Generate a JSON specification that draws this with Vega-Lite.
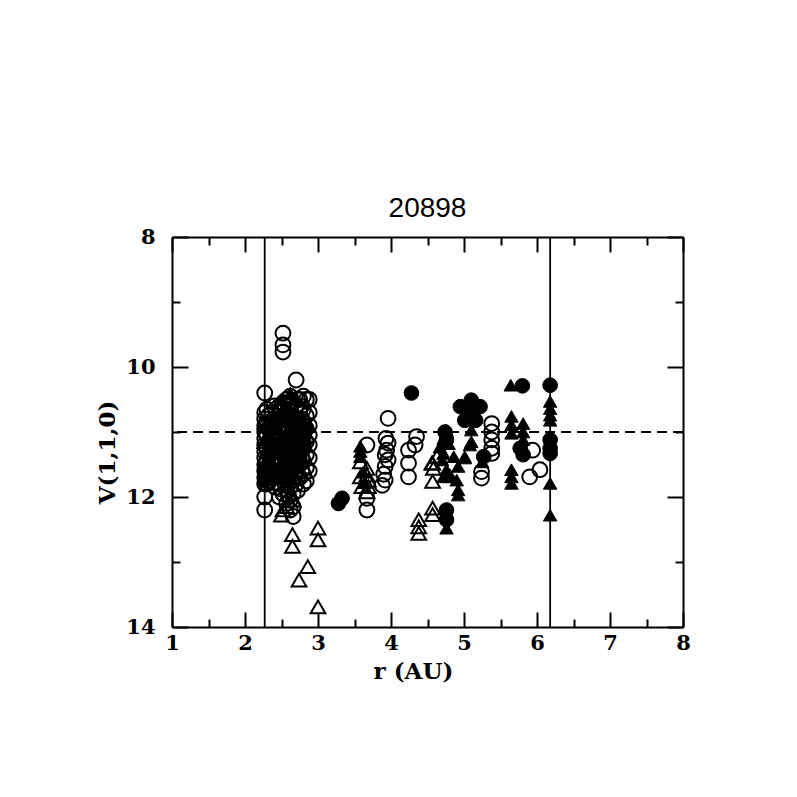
{
  "$schema": "https://vega.github.io/schema/vega-lite/v6.json",
  "autosize": "none",
  "width": 511,
  "height": 390,
  "padding": {"left": 172, "top": 237, "right": 114, "bottom": 170},
  "background": "white",
  "config": {
    "view": {"stroke": null},
    "axis": {
      "grid": false,
      "domainColor": "black",
      "domainWidth": 2,
      "tickColor": "black",
      "tickWidth": 2,
      "labelColor": "black",
      "titleColor": "black",
      "labelFont": "DejaVu Serif",
      "labelFontSize": 21,
      "labelFontWeight": "bold",
      "titleFont": "DejaVu Serif",
      "titleFontSize": 23,
      "titleFontWeight": "bold",
      "labelFlush": false,
      "labelOverlap": false
    }
  },
  "title": {"text": "20898", "font": "Liberation Sans", "fontSize": 28, "fontWeight": "normal", "color": "black", "baseline": "alphabetic", "offset": 18, "dy": 37},
  "data": {"values": [
    {"r":2.27,"V":10.4,"kind":"oc"},{"r":2.27,"V":10.7,"kind":"oc"},{"r":2.27,"V":10.8,"kind":"oc"},{"r":2.27,"V":10.9,"kind":"oc"},{"r":2.27,"V":11.0,"kind":"oc"},{"r":2.27,"V":11.1,"kind":"oc"},{"r":2.27,"V":11.2,"kind":"oc"},{"r":2.27,"V":11.3,"kind":"oc"},{"r":2.27,"V":11.4,"kind":"oc"},{"r":2.27,"V":11.5,"kind":"oc"},{"r":2.27,"V":11.6,"kind":"oc"},{"r":2.27,"V":11.7,"kind":"oc"},{"r":2.27,"V":11.8,"kind":"oc"},{"r":2.27,"V":12.0,"kind":"oc"},{"r":2.27,"V":12.2,"kind":"oc"},
    {"r":2.27,"V":11.55,"kind":"fc"},{"r":2.27,"V":11.65,"kind":"fc"},{"r":2.27,"V":11.75,"kind":"fc"},{"r":2.27,"V":10.85,"kind":"ot"},{"r":2.27,"V":11.15,"kind":"ot"},
    {"r":2.32,"V":10.75,"kind":"oc"},{"r":2.32,"V":10.95,"kind":"oc"},{"r":2.32,"V":11.15,"kind":"oc"},{"r":2.32,"V":11.35,"kind":"oc"},{"r":2.32,"V":11.55,"kind":"oc"},{"r":2.32,"V":11.75,"kind":"oc"},{"r":2.32,"V":11.05,"kind":"ft"},{"r":2.32,"V":11.45,"kind":"ft"},
    {"r":2.3,"V":10.65,"kind":"oc"},{"r":2.3,"V":10.85,"kind":"oc"},{"r":2.3,"V":11.05,"kind":"oc"},{"r":2.3,"V":11.25,"kind":"oc"},{"r":2.3,"V":11.45,"kind":"oc"},{"r":2.3,"V":11.65,"kind":"oc"},{"r":2.3,"V":11.8,"kind":"oc"},
    {"r":2.37,"V":10.7,"kind":"oc"},{"r":2.37,"V":10.9,"kind":"oc"},{"r":2.37,"V":11.1,"kind":"oc"},{"r":2.37,"V":11.3,"kind":"oc"},{"r":2.37,"V":11.5,"kind":"oc"},{"r":2.37,"V":11.7,"kind":"oc"},{"r":2.37,"V":11.0,"kind":"ot"},{"r":2.37,"V":11.6,"kind":"ot"},
    {"r":2.4,"V":10.6,"kind":"oc"},{"r":2.4,"V":10.8,"kind":"oc"},{"r":2.4,"V":11.0,"kind":"oc"},{"r":2.4,"V":11.2,"kind":"oc"},{"r":2.4,"V":11.4,"kind":"oc"},{"r":2.4,"V":11.6,"kind":"oc"},{"r":2.4,"V":11.78,"kind":"oc"},
    {"r":2.42,"V":10.65,"kind":"oc"},{"r":2.42,"V":10.85,"kind":"oc"},{"r":2.42,"V":11.05,"kind":"oc"},{"r":2.42,"V":11.25,"kind":"oc"},{"r":2.42,"V":11.45,"kind":"oc"},{"r":2.42,"V":11.65,"kind":"oc"},{"r":2.42,"V":11.85,"kind":"oc"},{"r":2.42,"V":10.95,"kind":"ft"},
    {"r":2.47,"V":10.6,"kind":"oc"},{"r":2.47,"V":10.8,"kind":"oc"},{"r":2.47,"V":11.0,"kind":"oc"},{"r":2.47,"V":11.2,"kind":"oc"},{"r":2.47,"V":11.4,"kind":"oc"},{"r":2.47,"V":11.6,"kind":"oc"},{"r":2.47,"V":11.8,"kind":"oc"},{"r":2.47,"V":12.0,"kind":"oc"},{"r":2.47,"V":11.1,"kind":"ft"},{"r":2.47,"V":11.5,"kind":"ft"},{"r":2.47,"V":10.55,"kind":"ot"},
    {"r":2.5,"V":10.7,"kind":"oc"},{"r":2.5,"V":10.9,"kind":"oc"},{"r":2.5,"V":11.1,"kind":"oc"},{"r":2.5,"V":11.3,"kind":"oc"},{"r":2.5,"V":11.5,"kind":"oc"},{"r":2.5,"V":11.7,"kind":"oc"},{"r":2.5,"V":11.88,"kind":"oc"},
    {"r":2.52,"V":9.48,"kind":"oc"},{"r":2.52,"V":9.66,"kind":"oc"},{"r":2.52,"V":9.77,"kind":"oc"},{"r":2.52,"V":10.55,"kind":"oc"},{"r":2.52,"V":10.75,"kind":"oc"},{"r":2.52,"V":10.95,"kind":"oc"},{"r":2.52,"V":11.15,"kind":"oc"},{"r":2.52,"V":11.35,"kind":"oc"},{"r":2.52,"V":11.55,"kind":"oc"},{"r":2.52,"V":11.75,"kind":"oc"},{"r":2.52,"V":11.95,"kind":"oc"},{"r":2.52,"V":12.2,"kind":"ot"},{"r":2.5,"V":12.28,"kind":"ot"},{"r":2.52,"V":10.5,"kind":"ft"},{"r":2.52,"V":11.05,"kind":"ft"},{"r":2.52,"V":11.25,"kind":"ft"},
    {"r":2.57,"V":10.5,"kind":"oc"},{"r":2.57,"V":10.7,"kind":"oc"},{"r":2.57,"V":10.9,"kind":"oc"},{"r":2.57,"V":11.1,"kind":"oc"},{"r":2.57,"V":11.3,"kind":"oc"},{"r":2.57,"V":11.5,"kind":"oc"},{"r":2.57,"V":11.7,"kind":"oc"},{"r":2.57,"V":11.9,"kind":"oc"},{"r":2.57,"V":12.1,"kind":"oc"},{"r":2.57,"V":10.6,"kind":"ft"},{"r":2.57,"V":11.0,"kind":"ft"},{"r":2.57,"V":11.4,"kind":"ft"},{"r":2.57,"V":11.8,"kind":"ot"},{"r":2.57,"V":12.15,"kind":"ot"},
    {"r":2.6,"V":10.6,"kind":"oc"},{"r":2.6,"V":10.8,"kind":"oc"},{"r":2.6,"V":11.0,"kind":"oc"},{"r":2.6,"V":11.2,"kind":"oc"},{"r":2.6,"V":11.4,"kind":"oc"},{"r":2.6,"V":11.6,"kind":"oc"},{"r":2.6,"V":11.8,"kind":"oc"},{"r":2.6,"V":12.0,"kind":"oc"},
    {"r":2.62,"V":10.45,"kind":"oc"},{"r":2.62,"V":10.65,"kind":"oc"},{"r":2.62,"V":10.85,"kind":"oc"},{"r":2.62,"V":11.05,"kind":"oc"},{"r":2.62,"V":11.25,"kind":"oc"},{"r":2.62,"V":11.45,"kind":"oc"},{"r":2.62,"V":11.65,"kind":"oc"},{"r":2.62,"V":11.85,"kind":"oc"},{"r":2.62,"V":12.05,"kind":"oc"},{"r":2.62,"V":12.2,"kind":"oc"},{"r":2.62,"V":10.4,"kind":"ft"},{"r":2.62,"V":10.95,"kind":"ft"},{"r":2.62,"V":11.35,"kind":"ft"},{"r":2.62,"V":10.75,"kind":"ot"},
    {"r":2.66,"V":10.55,"kind":"oc"},{"r":2.66,"V":10.75,"kind":"oc"},{"r":2.66,"V":10.95,"kind":"oc"},{"r":2.66,"V":11.15,"kind":"oc"},{"r":2.66,"V":11.35,"kind":"oc"},{"r":2.66,"V":11.55,"kind":"oc"},{"r":2.66,"V":11.75,"kind":"oc"},{"r":2.66,"V":11.95,"kind":"oc"},{"r":2.66,"V":12.15,"kind":"oc"},{"r":2.66,"V":12.3,"kind":"oc"},{"r":2.66,"V":10.5,"kind":"ft"},{"r":2.66,"V":11.1,"kind":"ft"},{"r":2.66,"V":11.5,"kind":"ft"},{"r":2.66,"V":12.05,"kind":"ot"},
    {"r":2.7,"V":10.2,"kind":"oc"},{"r":2.7,"V":10.6,"kind":"oc"},{"r":2.7,"V":10.8,"kind":"oc"},{"r":2.7,"V":11.0,"kind":"oc"},{"r":2.7,"V":11.2,"kind":"oc"},{"r":2.7,"V":11.4,"kind":"oc"},{"r":2.7,"V":11.6,"kind":"oc"},{"r":2.7,"V":11.8,"kind":"oc"},{"r":2.7,"V":10.7,"kind":"ft"},{"r":2.7,"V":11.3,"kind":"ft"},{"r":2.7,"V":11.1,"kind":"ot"},
    {"r":2.72,"V":10.5,"kind":"oc"},{"r":2.72,"V":10.9,"kind":"oc"},{"r":2.72,"V":11.3,"kind":"oc"},{"r":2.72,"V":11.5,"kind":"oc"},{"r":2.72,"V":11.7,"kind":"oc"},{"r":2.72,"V":11.9,"kind":"oc"},
    {"r":2.75,"V":10.5,"kind":"oc"},{"r":2.75,"V":10.7,"kind":"oc"},{"r":2.75,"V":10.9,"kind":"oc"},{"r":2.75,"V":11.1,"kind":"oc"},{"r":2.75,"V":11.3,"kind":"oc"},{"r":2.75,"V":11.5,"kind":"oc"},{"r":2.75,"V":11.7,"kind":"oc"},{"r":2.75,"V":10.85,"kind":"ft"},{"r":2.75,"V":11.25,"kind":"ft"},
    {"r":2.78,"V":10.6,"kind":"oc"},{"r":2.78,"V":10.8,"kind":"oc"},{"r":2.78,"V":11.0,"kind":"oc"},{"r":2.78,"V":11.2,"kind":"oc"},{"r":2.78,"V":11.4,"kind":"oc"},{"r":2.78,"V":11.6,"kind":"oc"},
    {"r":2.8,"V":10.45,"kind":"oc"},{"r":2.8,"V":10.65,"kind":"oc"},{"r":2.8,"V":10.85,"kind":"oc"},{"r":2.8,"V":11.05,"kind":"oc"},{"r":2.8,"V":11.25,"kind":"oc"},{"r":2.8,"V":11.45,"kind":"oc"},{"r":2.8,"V":11.65,"kind":"oc"},{"r":2.8,"V":11.8,"kind":"oc"},{"r":2.8,"V":11.0,"kind":"ot"},
    {"r":2.84,"V":10.5,"kind":"oc"},{"r":2.84,"V":10.75,"kind":"oc"},{"r":2.84,"V":10.95,"kind":"oc"},{"r":2.84,"V":11.15,"kind":"oc"},{"r":2.84,"V":11.35,"kind":"oc"},{"r":2.84,"V":11.55,"kind":"oc"},{"r":2.84,"V":11.75,"kind":"oc"},{"r":2.84,"V":11.1,"kind":"ft"},
    {"r":2.88,"V":10.5,"kind":"oc"},{"r":2.88,"V":10.7,"kind":"oc"},{"r":2.88,"V":10.9,"kind":"oc"},{"r":2.88,"V":11.05,"kind":"oc"},{"r":2.88,"V":11.2,"kind":"oc"},{"r":2.88,"V":11.4,"kind":"oc"},{"r":2.88,"V":11.6,"kind":"oc"},{"r":2.88,"V":10.9,"kind":"ft"},
    {"r":2.35,"V":11.2,"kind":"fc"},{"r":2.45,"V":11.3,"kind":"fc"},{"r":2.55,"V":11.2,"kind":"fc"},{"r":2.65,"V":11.3,"kind":"fc"},{"r":2.75,"V":11.4,"kind":"fc"},{"r":2.4,"V":10.95,"kind":"fc"},{"r":2.6,"V":10.85,"kind":"fc"},{"r":2.7,"V":11.55,"kind":"fc"},{"r":2.5,"V":11.6,"kind":"fc"},{"r":2.8,"V":11.15,"kind":"fc"},{"r":2.35,"V":11.55,"kind":"fc"},{"r":2.55,"V":10.8,"kind":"fc"},{"r":2.45,"V":11.7,"kind":"fc"},{"r":2.72,"V":10.95,"kind":"fc"},
    {"r":2.65,"V":12.58,"kind":"ot"},{"r":2.65,"V":12.76,"kind":"ot"},{"r":3.0,"V":12.48,"kind":"ot"},{"r":3.0,"V":12.66,"kind":"ot"},{"r":2.86,"V":13.07,"kind":"ot"},{"r":2.74,"V":13.28,"kind":"ot"},{"r":3.0,"V":13.69,"kind":"ot"},
    {"r":3.28,"V":12.1,"kind":"fc"},{"r":3.33,"V":12.02,"kind":"fc"},
    {"r":4.28,"V":10.4,"kind":"fc"},{"r":3.96,"V":10.79,"kind":"oc"},
    {"r":3.93,"V":11.1,"kind":"oc"},{"r":3.96,"V":11.17,"kind":"oc"},{"r":3.94,"V":11.28,"kind":"oc"},{"r":3.92,"V":11.35,"kind":"oc"},{"r":3.96,"V":11.43,"kind":"oc"},{"r":3.92,"V":11.53,"kind":"oc"},{"r":3.9,"V":11.65,"kind":"oc"},{"r":3.92,"V":11.74,"kind":"oc"},{"r":3.88,"V":11.82,"kind":"oc"},
    {"r":4.35,"V":11.07,"kind":"oc"},{"r":4.33,"V":11.2,"kind":"oc"},{"r":4.24,"V":11.28,"kind":"oc"},{"r":4.24,"V":11.48,"kind":"oc"},{"r":4.24,"V":11.69,"kind":"oc"},
    {"r":3.67,"V":11.2,"kind":"oc"},{"r":3.67,"V":12.02,"kind":"oc"},{"r":3.67,"V":12.2,"kind":"oc"},
    {"r":3.58,"V":11.22,"kind":"ft"},{"r":3.58,"V":11.3,"kind":"ft"},{"r":3.58,"V":11.38,"kind":"ft"},
    {"r":3.58,"V":11.46,"kind":"ot"},{"r":3.58,"V":11.69,"kind":"ot"},{"r":3.6,"V":11.84,"kind":"ot"},{"r":3.67,"V":11.56,"kind":"ot"},{"r":3.67,"V":11.66,"kind":"ot"},{"r":3.69,"V":11.74,"kind":"ot"},{"r":3.69,"V":11.84,"kind":"ot"},{"r":3.67,"V":11.92,"kind":"ot"},
    {"r":3.64,"V":11.78,"kind":"ft"},{"r":3.62,"V":11.62,"kind":"ft"},
    {"r":4.38,"V":12.35,"kind":"ot"},{"r":4.38,"V":12.46,"kind":"ot"},{"r":4.38,"V":12.56,"kind":"ot"},
    {"r":4.57,"V":12.17,"kind":"ot"},{"r":4.57,"V":12.27,"kind":"ot"},{"r":4.57,"V":11.48,"kind":"ot"},{"r":4.57,"V":11.76,"kind":"ot"},
    {"r":4.74,"V":11.0,"kind":"fc"},{"r":4.76,"V":11.12,"kind":"fc"},{"r":4.76,"V":12.2,"kind":"fc"},{"r":4.76,"V":12.35,"kind":"fc"},{"r":4.76,"V":12.48,"kind":"ft"},
    {"r":4.95,"V":10.61,"kind":"fc"},{"r":5.1,"V":10.51,"kind":"fc"},{"r":5.22,"V":10.61,"kind":"fc"},{"r":5.08,"V":10.71,"kind":"fc"},{"r":5.01,"V":10.82,"kind":"fc"},{"r":5.16,"V":10.82,"kind":"fc"},
    {"r":5.1,"V":10.97,"kind":"ft"},{"r":5.1,"V":11.15,"kind":"ft"},
    {"r":4.72,"V":11.33,"kind":"ft"},{"r":4.86,"V":11.38,"kind":"ft"},{"r":5.01,"V":11.38,"kind":"ft"},{"r":4.92,"V":11.53,"kind":"ft"},{"r":4.76,"V":11.58,"kind":"ft"},{"r":4.81,"V":11.69,"kind":"ft"},{"r":4.72,"V":11.69,"kind":"ft"},{"r":4.9,"V":11.74,"kind":"ft"},{"r":4.92,"V":11.89,"kind":"ft"},{"r":4.92,"V":11.97,"kind":"ft"},
    {"r":4.76,"V":10.97,"kind":"ft"},{"r":4.72,"V":11.1,"kind":"ft"},{"r":4.79,"V":11.18,"kind":"ft"},{"r":4.67,"V":11.23,"kind":"ft"},
    {"r":4.63,"V":11.38,"kind":"ot"},{"r":4.56,"V":11.48,"kind":"ot"},{"r":4.58,"V":11.56,"kind":"ot"},
    {"r":4.7,"V":11.43,"kind":"ft"},{"r":4.81,"V":11.66,"kind":"ft"},{"r":5.01,"V":11.4,"kind":"ft"},{"r":5.08,"V":11.2,"kind":"ft"},
    {"r":5.38,"V":10.87,"kind":"oc"},{"r":5.38,"V":11.0,"kind":"oc"},{"r":5.38,"V":11.12,"kind":"oc"},{"r":5.38,"V":11.25,"kind":"oc"},{"r":5.38,"V":11.33,"kind":"oc"},
    {"r":5.27,"V":11.38,"kind":"fc"},{"r":5.25,"V":11.46,"kind":"ft"},{"r":5.24,"V":11.61,"kind":"oc"},{"r":5.24,"V":11.71,"kind":"oc"},
    {"r":5.65,"V":10.76,"kind":"ft"},{"r":5.65,"V":10.89,"kind":"ft"},{"r":5.65,"V":11.02,"kind":"ft"},{"r":5.81,"V":10.87,"kind":"ft"},{"r":5.81,"V":11.0,"kind":"ft"},{"r":5.81,"V":11.12,"kind":"ft"},
    {"r":5.64,"V":10.28,"kind":"ft"},{"r":5.8,"V":10.29,"kind":"fc"},
    {"r":5.77,"V":11.25,"kind":"fc"},{"r":5.81,"V":11.35,"kind":"fc"},{"r":5.94,"V":11.28,"kind":"oc"},
    {"r":5.65,"V":11.58,"kind":"ft"},{"r":5.65,"V":11.69,"kind":"ft"},{"r":5.65,"V":11.79,"kind":"ft"},
    {"r":5.9,"V":11.69,"kind":"oc"},{"r":6.04,"V":11.58,"kind":"oc"},
    {"r":6.18,"V":10.28,"kind":"fc"},{"r":6.18,"V":10.53,"kind":"ft"},{"r":6.18,"V":10.64,"kind":"ft"},{"r":6.18,"V":10.74,"kind":"ft"},{"r":6.18,"V":10.82,"kind":"ft"},
    {"r":6.18,"V":11.12,"kind":"fc"},{"r":6.18,"V":11.25,"kind":"fc"},{"r":6.18,"V":11.33,"kind":"fc"},{"r":6.18,"V":11.79,"kind":"ft"},{"r":6.18,"V":12.28,"kind":"ft"}
  ]},
  "layer": [
    {
      "data": {"values": [{"r": 2.27}, {"r": 6.18}]},
      "mark": {"type": "rule", "color": "black", "strokeWidth": 1.8},
      "encoding": {"x": {"field": "r", "type": "quantitative", "scale": {"domain": [1, 8], "nice": false, "zero": false}, "axis": null}}
    },
    {
      "data": {"values": [{"V": 11}]},
      "mark": {"type": "rule", "color": "black", "strokeWidth": 1.8, "strokeDash": [10, 6]},
      "encoding": {"y": {"field": "V", "type": "quantitative", "scale": {"domain": [8, 14], "reverse": true, "nice": false, "zero": false}, "axis": null}}
    },
    {
      "transform": [{"filter": "datum.kind === 'oc'"}],
      "mark": {"type": "point", "shape": "circle", "filled": false, "stroke": "black", "strokeWidth": 2, "size": 220, "opacity": 1},
      "encoding": {
        "x": {"field": "r", "type": "quantitative", "scale": {"domain": [1, 8], "nice": false, "zero": false},
          "axis": {"orient": "bottom", "values": [1, 2, 3, 4, 5, 6, 7, 8], "tickSize": -15, "labelPadding": 20, "title": "r (AU)", "titleX": 241, "titleY": 44, "titleBaseline": "middle", "titleAlign": "center", "format": "d"}},
        "y": {"field": "V", "type": "quantitative", "scale": {"domain": [8, 14], "reverse": true, "nice": false, "zero": false},
          "axis": {"orient": "left", "values": [8, 10, 12, 14], "tickSize": -16, "labelPadding": 33, "title": "V(1,1,0)", "titleX": -65, "titleY": 215, "titleBaseline": "middle", "titleAlign": "center", "titleAngle": -90, "format": "d"}}
      }
    },
    {
      "transform": [{"filter": "datum.kind === 'fc'"}],
      "mark": {"type": "point", "shape": "circle", "filled": true, "fill": "black", "stroke": "black", "strokeWidth": 1, "size": 215, "opacity": 1},
      "encoding": {
        "x": {"field": "r", "type": "quantitative", "scale": {"domain": [1, 8], "nice": false, "zero": false},
          "axis": {"orient": "bottom", "values": [1.5, 2.5, 3.5, 4.5, 5.5, 6.5, 7.5], "tickSize": -8, "labels": false, "domain": false, "title": null}},
        "y": {"field": "V", "type": "quantitative", "scale": {"domain": [8, 14], "reverse": true, "nice": false, "zero": false},
          "axis": {"orient": "left", "values": [9, 11, 13], "tickSize": -8, "labels": false, "domain": false, "title": null}}
      }
    },
    {
      "transform": [{"filter": "datum.kind === 'ot'"}],
      "mark": {"type": "point", "shape": "triangle-up", "filled": false, "stroke": "black", "strokeWidth": 2, "size": 215, "opacity": 1},
      "encoding": {
        "x": {"field": "r", "type": "quantitative", "scale": {"domain": [1, 8], "nice": false, "zero": false},
          "axis": {"orient": "top", "values": [1, 2, 3, 4, 5, 6, 7, 8], "tickSize": -15, "labels": false, "title": null}},
        "y": {"field": "V", "type": "quantitative", "scale": {"domain": [8, 14], "reverse": true, "nice": false, "zero": false},
          "axis": {"orient": "right", "values": [8, 10, 12, 14], "tickSize": -16, "labels": false, "title": null}}
      }
    },
    {
      "transform": [{"filter": "datum.kind === 'ft'"}],
      "mark": {"type": "point", "shape": "triangle-up", "filled": true, "fill": "black", "stroke": "black", "strokeWidth": 1, "size": 180, "opacity": 1},
      "encoding": {
        "x": {"field": "r", "type": "quantitative", "scale": {"domain": [1, 8], "nice": false, "zero": false},
          "axis": {"orient": "top", "values": [1.5, 2.5, 3.5, 4.5, 5.5, 6.5, 7.5], "tickSize": -8, "labels": false, "domain": false, "title": null}},
        "y": {"field": "V", "type": "quantitative", "scale": {"domain": [8, 14], "reverse": true, "nice": false, "zero": false},
          "axis": {"orient": "right", "values": [9, 11, 13], "tickSize": -8, "labels": false, "domain": false, "title": null}}
      }
    }
  ],
  "resolve": {"axis": {"x": "independent", "y": "independent"}}
}
